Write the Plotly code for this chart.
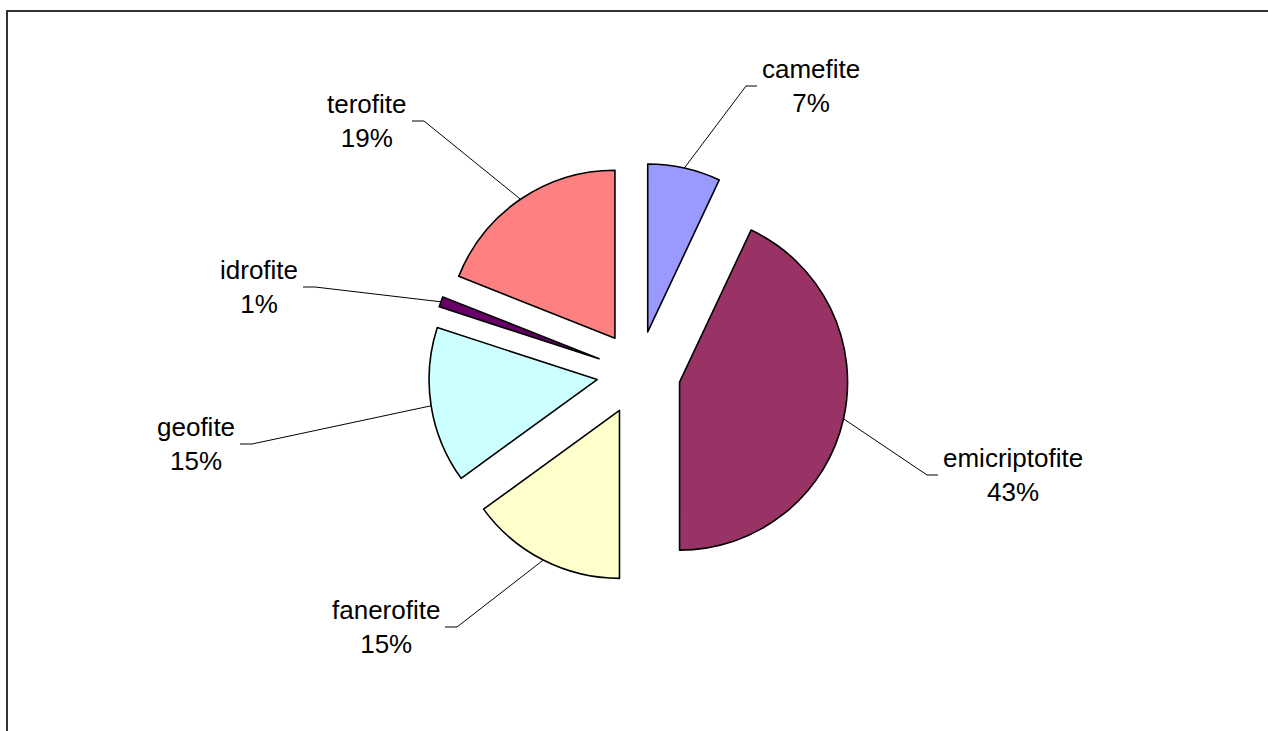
import math
import plotly.graph_objects as go

# ---- data ----
labels = ["camefite", "emicriptofite", "fanerofite", "geofite", "idrofite", "terofite"]
values = [7, 43, 15, 15, 1, 19]
pct_text = ["7%", "43%", "15%", "15%", "1%", "19%"]
colors = ["#9999FF", "#993366", "#FFFFCC", "#CCFFFF", "#660066", "#FF8080"]

# ---- layout constants ----
W, H = 1268, 731
dom_x = [0.3036, 0.7036]
dom_y = [0.2025, 0.7771]
pull = 0.25

# label anchor (text side), in pixels
label_x = [760, 941, 442, 237, 300, 409]
label_y = [86, 475, 627, 444, 287, 121]
label_side = ["right", "right", "left", "left", "left", "left"]

FONT = "Arial, Liberation Sans, sans-serif"
FS = 26

fig = go.Figure()

fig.add_trace(go.Pie(
    labels=labels, values=values, sort=False, direction="clockwise", rotation=0,
    pull=[pull] * len(values),
    marker=dict(colors=colors, line=dict(color="#000000", width=1.6)),
    textinfo="none", hoverinfo="skip", showlegend=False,
    domain=dict(x=dom_x, y=dom_y),
))

# pie geometry (same rules as plotly.js) to attach leader lines
box_w = W * (dom_x[1] - dom_x[0])
box_h = H * (dom_y[1] - dom_y[0])
r = min(box_w, box_h) / 2 / (1 + pull)
cx = W * (dom_x[0] + dom_x[1]) / 2
cy = H * (1 - dom_y[0]) - box_h / 2

total = sum(values)
cum = 0
for i, v in enumerate(values):
    theta = 2 * math.pi * (cum + v / 2) / total
    cum += v
    px = cx + (1 + pull) * r * math.sin(theta)
    py = cy - (1 + pull) * r * math.cos(theta)
    if label_side[i] == "right":
        stub = label_x[i] - 3
        elbow = stub - 11
        xanchor = "left"
    else:
        stub = label_x[i] + 3
        elbow = stub + 12
        xanchor = "right"
    fig.add_trace(go.Scatter(
        x=[px, elbow, stub], y=[py, label_y[i], label_y[i]], mode="lines",
        line=dict(color="#000000", width=1), hoverinfo="skip", showlegend=False,
    ))
    fig.add_annotation(
        x=label_x[i], y=label_y[i], xref="x", yref="y", xanchor=xanchor, yanchor="middle",
        text=f"{labels[i]}<br>{pct_text[i]}", showarrow=False, align="center",
        font=dict(family=FONT, size=FS, color="#000000"),
    )

# chart-area border (right/bottom edges fall outside the picture)
fig.add_shape(type="rect", xref="x", yref="y", x0=7, y0=11, x1=W + 40, y1=H + 40,
              line=dict(color="#333333", width=2), fillcolor="rgba(0,0,0,0)")

fig.update_layout(
    width=W, height=H, margin=dict(l=0, r=0, t=0, b=0),
    paper_bgcolor="white", plot_bgcolor="white",
    xaxis=dict(range=[0, W], visible=False, fixedrange=True),
    yaxis=dict(range=[H, 0], visible=False, fixedrange=True),
    showlegend=False,
)

fig.write_html("out.html")
